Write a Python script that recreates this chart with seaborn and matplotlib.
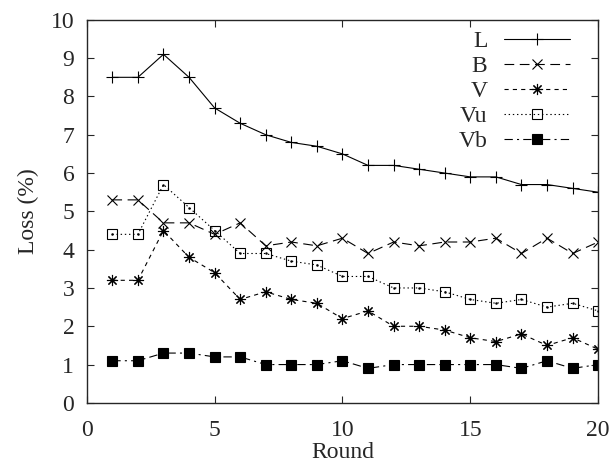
import numpy as np
import pandas as pd
import matplotlib
matplotlib.use("Agg")
import matplotlib.pyplot as plt
import seaborn as sns

rounds = list(range(1, 21))
loss_L = [8.5, 8.5, 9.1, 8.5, 7.7, 7.3, 7.0, 6.8, 6.7, 6.5, 6.2, 6.2, 6.1, 6.0, 5.9, 5.9, 5.7, 5.7, 5.6, 5.5]
loss_B = [5.3, 5.3, 4.7, 4.7, 4.4, 4.7, 4.1, 4.2, 4.1, 4.3, 3.9, 4.2, 4.1, 4.2, 4.2, 4.3, 3.9, 4.3, 3.9, 4.2]
loss_V = [3.2, 3.2, 4.5, 3.8, 3.4, 2.7, 2.9, 2.7, 2.6, 2.2, 2.4, 2.0, 2.0, 1.9, 1.7, 1.6, 1.8, 1.5, 1.7, 1.4]
loss_Vu = [4.4, 4.4, 5.7, 5.1, 4.5, 3.9, 3.9, 3.7, 3.6, 3.3, 3.3, 3.0, 3.0, 2.9, 2.7, 2.6, 2.7, 2.5, 2.6, 2.4]
loss_Vb = [1.1, 1.1, 1.3, 1.3, 1.2, 1.2, 1.0, 1.0, 1.0, 1.1, 0.9, 1.0, 1.0, 1.0, 1.0, 1.0, 0.9, 1.1, 0.9, 1.0]

sns.set_style("ticks")
plt.rcParams['font.family'] = ['Liberation Serif', 'DejaVu Serif']
plt.rcParams['lines.scale_dashes'] = False

fig = plt.figure(figsize=(6.11, 4.62), dpi=100)
ax = fig.add_axes([0.142, 0.128, 0.837, 0.829])

lw = 0.8
series = [
    ('L', loss_L, dict(marker='+', markersize=8, linestyle='-')),
    ('B', loss_B, dict(marker='x', markersize=7, dashes=(7, 4))),
    ('V', loss_V, dict(marker=(8, 2, 0), markersize=8, dashes=(3, 3))),
    ('Vu', loss_Vu, dict(marker='s', markersize=7, fillstyle='none', dashes=(1, 2))),
    ('Vb', loss_Vb, dict(marker='s', markersize=6.5, dashes=(6, 3, 1.5, 3))),
]
for name, vals, style in series:
    sns.lineplot(x=rounds, y=vals, ax=ax, color='black', linewidth=lw,
                 markeredgewidth=0.8, markeredgecolor='black', label=name, **style)

# small centre dots on the open squares
ax.scatter(rounds, loss_Vu, s=0.6, color='black', zorder=5)

ax.set_xlim(0, 20)
ax.set_ylim(0, 10)
ax.set_xticks([0, 5, 10, 15, 20])
ax.set_yticks(range(0, 11))
ax.tick_params(direction='in', top=True, right=True, length=5, width=0.8,
               labelsize=17)
ax.tick_params(axis='x', pad=12)
ax.tick_params(axis='y', pad=9)
for s in ax.spines.values():
    s.set_linewidth(1.0)
    s.set_visible(True)
ax.set_xlabel('Round', fontsize=17, labelpad=1)
ax.set_ylabel('Loss (%)', fontsize=17, labelpad=8)

ax.legend(loc='upper right', bbox_to_anchor=(0.945, 0.972), frameon=False,
          markerfirst=False, fontsize=17, handlelength=2.8, labelspacing=0.15,
          handletextpad=0.7, borderaxespad=0, borderpad=0)

fig.savefig('out.png', dpi=100)
